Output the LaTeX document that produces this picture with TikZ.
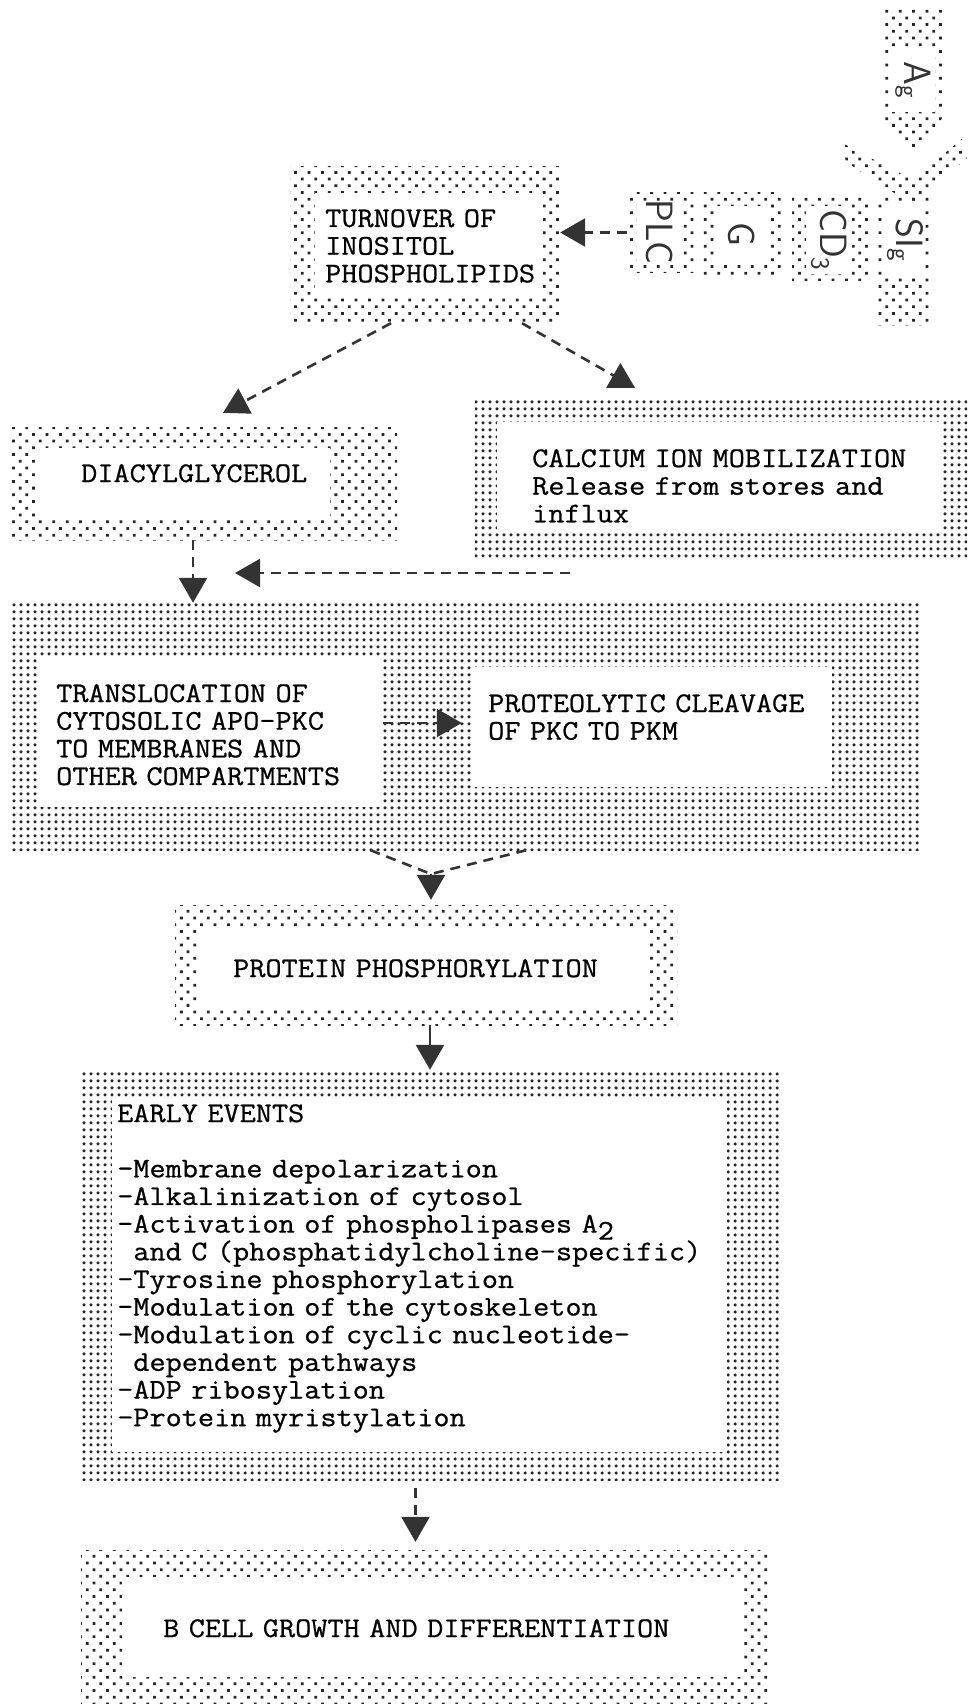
\documentclass[tikz,border=0pt]{standalone}
\usepackage{fontspec}
\newfontfamily\tw{Latin Modern Mono}[FakeStretch=1.1,FakeBold=0.7]
\usetikzlibrary{arrows.meta,patterns.meta}
\newcommand\bodyfont{\fontsize{28.5}{27.65}\selectfont\tw\lineskiplimit-100pt\relax}

\tikzset{
  fine/.style={pattern={Dots[distance=7pt,radius=1.75pt]},pattern color=black!85,inner sep=0pt},
  coarse/.style={pattern={Dots[distance=9.5pt,radius=1.95pt,angle=45]},pattern color=black!85,inner sep=0pt},
  hole/.style={fill=white,inner sep=0pt},
  txt/.style={font=\bodyfont,align=left,text width=800pt,inner sep=0pt,anchor=base west},
  lbl/.style={font=\fontsize{38}{38}\selectfont\sffamily,rotate=-90,inner sep=0pt,text=black!80},
  link/.style={draw=black!80,line width=2.6pt,dash pattern=on 10pt off 7pt,-{Triangle[length=25pt,width=28pt]}},
  trail/.style={draw=black!80,line width=2.6pt,dash pattern=on 10pt off 7pt},
}

\begin{document}
\begin{tikzpicture}[x=1pt,y=-1pt]
\useasboundingbox (0,0) rectangle (967,1704);

% antigen and receptor complex
\path[coarse] (882,8) -- (943,8) -- (943,117) -- (913,157) -- (882,117) -- cycle;
\fill[white] (890,48) rectangle (935,112);
\node[lbl] (ag) at (913,80) {A\textsubscript{g}};
\path[coarse] (842,143) -- (913,180) -- (963,138) -- (967,158) -- (913,205) -- (846,162) -- cycle;
\node[coarse,minimum width=55pt,minimum height=130pt] (sig) at (904.5,260) {};
\fill[white] (884,202) rectangle (925,278);
\node[lbl] (sigt) at (905,240) {SI\textsubscript{g}};

\node[coarse,minimum width=76pt,minimum height=82pt] (cd) at (830,239) {};
\fill[white] (806,206) rectangle (852,274);
\node[lbl] (cdt) at (829,240) {CD\textsubscript{3}};

\node[coarse,minimum width=79pt,minimum height=82pt] (gp) at (742.5,234) {};
\fill[white] (716,206) rectangle (768,262);
\node[lbl] (gpt) at (742,234) {G};

\node[coarse,minimum width=68pt,minimum height=79pt] (plc) at (661,232.5) {};
\fill[white] (637,202) rectangle (683,264);
\node[lbl] (plct) at (660,232) {PLC};

% turnover
\node[coarse,minimum width=270pt,minimum height=156pt] (turn) at (425,245) {};
\fill[white] (315,193) rectangle (543,297);
\node[txt] (turnt) at (325,227) {TURNOVER OF\\INOSITOL\\PHOSPHOLIPIDS};

% diacylglycerol
\node[coarse,minimum width=386pt,minimum height=113pt] (dag) at (204,483.5) {};
\fill[white] (37,448) rectangle (330,517);
\node[txt] (dagt) at (81,482) {DIACYLGLYCEROL};

% calcium
\node[fine,minimum width=492pt,minimum height=162pt] (ca) at (721,479) {};
\fill[white] (497,422) rectangle (943,532);
\node[txt] (cat) at (532,467) {CALCIUM ION MOBILIZATION\\Release from stores and\\influx};

% translocation and cleavage
\node[fine,minimum width=911pt,minimum height=247pt] (big) at (466.5,726.5) {};
\node[hole,minimum width=345pt,minimum height=150pt] (trans) at (210.5,732) {};
\node[hole,minimum width=360pt,minimum height=120pt] (cleave) at (652,727) {};
\node[txt] (transt) at (56,702) {TRANSLOCATION OF\\CYTOSOLIC APO-PKC\\TO MEMBRANES AND\\OTHER COMPARTMENTS};
\node[txt] (cleavet) at (488,712) {PROTEOLYTIC CLEAVAGE\\OF PKC TO PKM};

% phosphorylation
\node[coarse,minimum width=502pt,minimum height=120pt] (prot) at (426,965) {};
\fill[white] (197,930) rectangle (650,1010);
\node[txt] (prott) at (233,977) {PROTEIN PHOSPHORYLATION};

% early events
\node[fine,minimum width=701pt,minimum height=410pt] (early) at (431.5,1275) {};
\fill[white] (112,1098) rectangle (727,1452);
\node[txt] (earlyt) at (117,1122) {EARLY EVENTS\\\mbox{}\\-Membrane depolarization\\-Alkalinization of cytosol\\-Activation of phospholipases A\raisebox{-7pt}{2}\\\phantom{-}and C (phosphatidylcholine-specific)\\-Tyrosine phosphorylation\\-Modulation of the cytoskeleton\\-Modulation of cyclic nucleotide-\\\phantom{-}dependent pathways\\-ADP ribosylation\\-Protein myristylation};

% growth
\node[coarse,minimum width=687pt,minimum height=162pt] (bcell) at (424.5,1631) {};
\fill[white] (122,1577) rectangle (744,1677);
\node[txt] (bcellt) at (163,1637) {B CELL GROWTH AND DIFFERENTIATION};

% connectors
\coordinate (caout) at (570,573);
\coordinate (merge) at (235,573);
\coordinate (vm) at (431,874);
\draw[link] (plc.west) -- (plc.west -| turn.east);
\draw[link] ([xshift=-34pt]turn.south) -- ([xshift=19pt,yshift=14pt]dag.north);
\draw[link] ([xshift=97pt]turn.south) -- ([xshift=-86pt,yshift=10pt]ca.north);
\draw[link] ([xshift=-11pt]dag.south) -- ([xshift=-11pt]dag.south |- big.north);
\draw[link] (caout) -- (merge);
\draw[link,shorten >=10pt] ([yshift=9pt]trans.east) -- ([yshift=9pt]trans.east -| cleave.west);
\draw[trail] ([xshift=-96pt]big.south) -- (vm) -- ([xshift=60pt]big.south);
\draw[link,shorten >=5pt] (vm) -- (vm |- prot.north);
\draw[link,solid] ([xshift=4pt]prot.south) -- ([xshift=4pt]prot.south |- early.north);
\draw[link,shorten <=8pt,shorten >=8pt] ([xshift=-16pt]early.south) -- ([xshift=-16pt]early.south |- bcell.north);

\end{tikzpicture}
\end{document}
